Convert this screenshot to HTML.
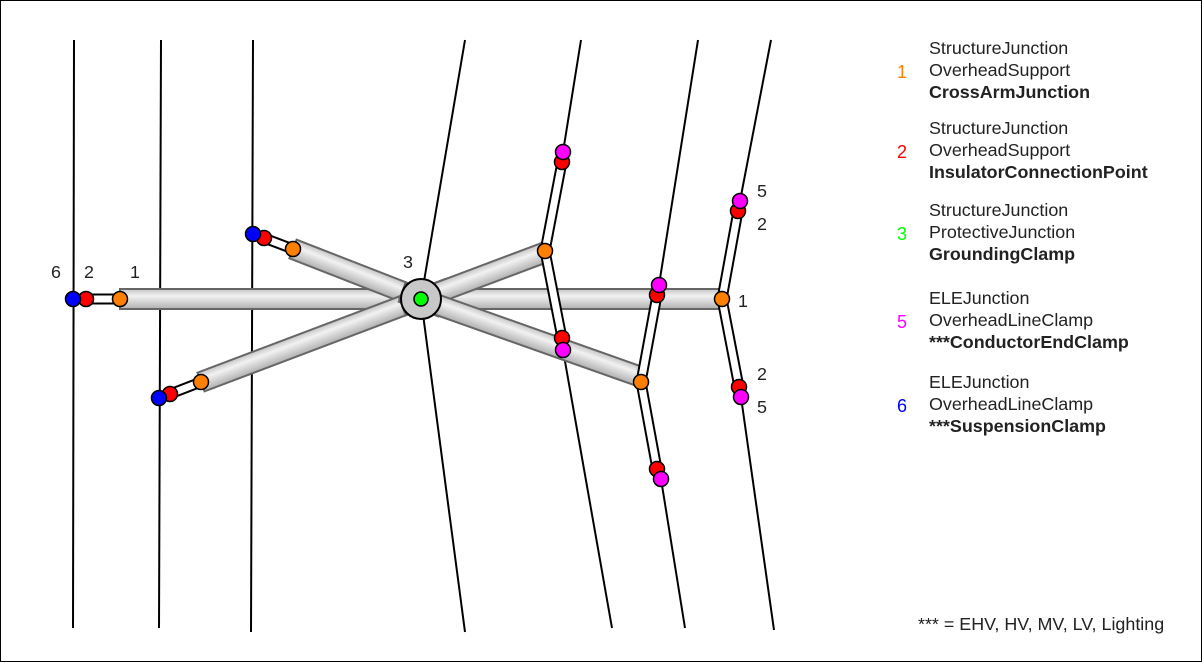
<!DOCTYPE html>
<html><head><meta charset="utf-8"><style>
html,body{margin:0;padding:0;background:#fff}
svg{display:block}
text{font-family:"Liberation Sans",sans-serif;font-size:17.9px;fill:#222}
</style></head><body>
<svg width="1202" height="662" viewBox="0 0 1202 662">
<defs>
<linearGradient id="g" x1="0" y1="0" x2="0" y2="1">
<stop offset="0" stop-color="#c4c4c4"/><stop offset="0.35" stop-color="#f2f2f2"/><stop offset="1" stop-color="#b0b0b0"/>
</linearGradient>
</defs>
<rect x="0.5" y="0.5" width="1201" height="661" fill="#fff" stroke="#000"/>
<g stroke="#000" stroke-width="2" fill="none">
<line x1="74" y1="40" x2="73" y2="628"/>
<line x1="161" y1="40" x2="159" y2="628"/>
<line x1="253" y1="40" x2="251" y2="632"/>
<polyline points="465,40 421,299 465,632"/>
<line x1="581" y1="40" x2="563" y2="152"/>
<line x1="563" y1="350" x2="612" y2="628"/>
<line x1="698" y1="40" x2="659" y2="285"/>
<line x1="661" y1="479" x2="685" y2="628"/>
<line x1="771" y1="40" x2="740" y2="201"/>
<line x1="741" y1="397" x2="774" y2="630"/>
</g>
<g stroke="#666" stroke-width="2" fill="url(#g)">
<rect x="120" y="289" width="602" height="20"/>
<rect x="0" y="-10" width="160" height="20" transform="translate(293,249) rotate(21.3)"/>
<rect x="0" y="-10" width="265" height="20" transform="translate(201,382) rotate(-20.7)"/>
<rect x="-20" y="-10" width="155" height="20" transform="translate(421,299) rotate(-20.6)"/>
<rect x="-20" y="-10" width="253" height="20" transform="translate(421,299) rotate(19.5)"/>
</g>
<g stroke-linecap="butt">
<g stroke="#000" stroke-width="11">
<line x1="86" y1="299" x2="120" y2="299"/>
<line x1="264" y1="238" x2="293" y2="249"/>
<line x1="170" y1="394" x2="201" y2="382"/>
<line x1="562" y1="162" x2="545" y2="251"/><line x1="545" y1="251" x2="562" y2="338"/>
<line x1="657" y1="295" x2="641" y2="382"/><line x1="641" y1="382" x2="657" y2="469"/>
<line x1="738" y1="211" x2="722" y2="299"/><line x1="722" y1="299" x2="739" y2="387"/>
</g>
<g stroke="#fff" stroke-width="7">
<line x1="86" y1="299" x2="120" y2="299"/>
<line x1="264" y1="238" x2="293" y2="249"/>
<line x1="170" y1="394" x2="201" y2="382"/>
<line x1="562" y1="162" x2="545" y2="251"/><line x1="545" y1="251" x2="562" y2="338"/>
<line x1="657" y1="295" x2="641" y2="382"/><line x1="641" y1="382" x2="657" y2="469"/>
<line x1="738" y1="211" x2="722" y2="299"/><line x1="722" y1="299" x2="739" y2="387"/>
</g>
</g>
<circle cx="421" cy="299" r="20" fill="#c8c8c8" stroke="#000" stroke-width="2"/>
<g stroke="#000" stroke-width="1.5">
<circle cx="421" cy="299" r="7" fill="#00ff00"/>
<circle cx="120" cy="299" r="7.5" fill="#ff8000"/>
<circle cx="86" cy="299" r="7.5" fill="#ff0000"/>
<circle cx="73" cy="299" r="7.5" fill="#0000ff"/>
<circle cx="293" cy="249" r="7.5" fill="#ff8000"/>
<circle cx="264" cy="238" r="7.5" fill="#ff0000"/>
<circle cx="253" cy="234" r="7.5" fill="#0000ff"/>
<circle cx="201" cy="382" r="7.5" fill="#ff8000"/>
<circle cx="170" cy="394" r="7.5" fill="#ff0000"/>
<circle cx="159" cy="398" r="7.5" fill="#0000ff"/>
<circle cx="545" cy="251" r="7.5" fill="#ff8000"/>
<circle cx="562" cy="162" r="7.5" fill="#ff0000"/>
<circle cx="563" cy="152" r="7.5" fill="#ff00ff"/>
<circle cx="562" cy="338" r="7.5" fill="#ff0000"/>
<circle cx="563" cy="350" r="7.5" fill="#ff00ff"/>
<circle cx="641" cy="382" r="7.5" fill="#ff8000"/>
<circle cx="657" cy="295" r="7.5" fill="#ff0000"/>
<circle cx="659" cy="285" r="7.5" fill="#ff00ff"/>
<circle cx="657" cy="469" r="7.5" fill="#ff0000"/>
<circle cx="661" cy="479" r="7.5" fill="#ff00ff"/>
<circle cx="722" cy="299" r="7.5" fill="#ff8000"/>
<circle cx="738" cy="211" r="7.5" fill="#ff0000"/>
<circle cx="740" cy="201" r="7.5" fill="#ff00ff"/>
<circle cx="739" cy="387" r="7.5" fill="#ff0000"/>
<circle cx="741" cy="397" r="7.5" fill="#ff00ff"/>
</g>
<g style="font-size:18px">
<text x="51" y="278">6</text><text x="84" y="278">2</text><text x="130" y="278">1</text>
<text x="403" y="268">3</text>
<text x="757" y="197">5</text><text x="757" y="230">2</text><text x="738" y="307">1</text>
<text x="757" y="380">2</text><text x="757" y="413">5</text>
</g>
<g>
<text x="929" y="54">StructureJunction</text><text x="929" y="76">OverheadSupport</text><text x="929" y="98" style="font-weight:bold">CrossArmJunction</text>
<text x="897" y="78" style="fill:#ff8000;font-size:18px">1</text>
<text x="929" y="134">StructureJunction</text><text x="929" y="156">OverheadSupport</text><text x="929" y="178" style="font-weight:bold">InsulatorConnectionPoint</text>
<text x="897" y="158" style="fill:#ff0000;font-size:18px">2</text>
<text x="929" y="216">StructureJunction</text><text x="929" y="238">ProtectiveJunction</text><text x="929" y="260" style="font-weight:bold">GroundingClamp</text>
<text x="897" y="240" style="fill:#00ff00;font-size:18px">3</text>
<text x="929" y="304">ELEJunction</text><text x="929" y="326">OverheadLineClamp</text><text x="929" y="348" style="font-weight:bold">***ConductorEndClamp</text>
<text x="897" y="328" style="fill:#ff00ff;font-size:18px">5</text>
<text x="929" y="388">ELEJunction</text><text x="929" y="410">OverheadLineClamp</text><text x="929" y="432" style="font-weight:bold">***SuspensionClamp</text>
<text x="897" y="412" style="fill:#0000ff;font-size:18px">6</text>
<text x="918" y="630">*** = EHV, HV, MV, LV, Lighting</text>
</g>
</svg>
</body></html>
